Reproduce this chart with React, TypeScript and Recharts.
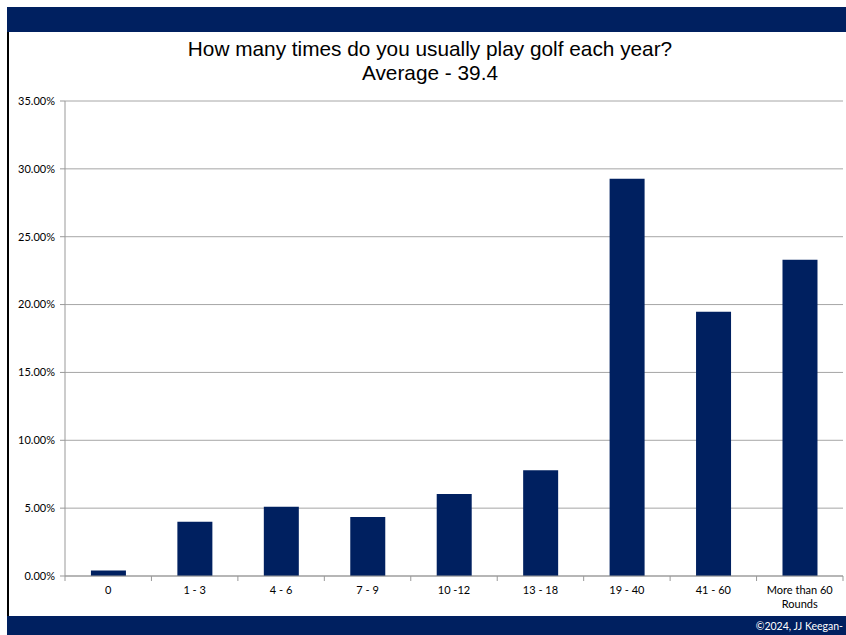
import { BarChart, Bar, XAxis, YAxis, CartesianGrid } from "recharts";

const roundBands = ["0", "1 - 3", "4 - 6", "7 - 9", "10 -12", "13 - 18", "19 - 40", "41 - 60", "More than 60 Rounds"];
const sharePct = [0.4, 4.0, 5.1, 4.35, 6.05, 7.8, 29.28, 19.47, 23.3];
const pctTicks = [0, 5, 10, 15, 20, 25, 30, 35];

const data = roundBands.map((band, i) => ({ band, share: sharePct[i] }));

const NAVY = "#002060";
const PLOT_LEFT = 65;
const PLOT_RIGHT = 843;
const STEP = (PLOT_RIGHT - PLOT_LEFT) / roundBands.length;
const LABEL_FONT = "Lato, 'Open Sans', sans-serif";

function BandTick(props: any) {
  const { x, y, payload, index } = props;
  const text: string = payload.value;
  const lines = text.startsWith("More than") ? ["More than 60", "Rounds"] : [text];
  const half = STEP / 2;
  return (
    <g>
      <line x1={x - half} y1={y - 8} x2={x - half} y2={y - 3} stroke="#999" />
      {index === roundBands.length - 1 && (
        <line x1={x + half} y1={y - 8} x2={x + half} y2={y - 3} stroke="#999" />
      )}
      {lines.map((l, i) => (
        <text key={i} x={x} y={y + 10 + i * 14} textAnchor="middle" fontSize={11} fontFamily={LABEL_FONT} fill="#000">
          {l}
        </text>
      ))}
    </g>
  );
}

export default function App() {
  return (
    <div style={{ position: "fixed", left: 0, top: 0, width: 846, height: 635, background: "#fff", overflow: "hidden" }}>
      <div style={{ position: "absolute", left: 7, top: 7, width: 839, height: 25, background: NAVY }} />
      <div style={{ position: "absolute", left: 7, top: 32, width: 2, height: 584, background: "#000" }} />
      <div style={{ position: "absolute", left: 7, top: 616, width: 839, height: 19, background: NAVY }} />
      <div
        style={{
          position: "absolute",
          right: 3,
          top: 620,
          color: "#fff",
          fontSize: 10.5,
          fontFamily: LABEL_FONT,
          whiteSpace: "nowrap",
        }}
      >
        ©2024, JJ Keegan-
      </div>
      <div
        style={{
          position: "absolute",
          left: 0,
          top: 37,
          width: 860,
          textAlign: "center",
          fontFamily: "'Liberation Sans', Arial, sans-serif",
          fontSize: 20.8,
          lineHeight: "24px",
          color: "#000",
        }}
      >
        How many times do you usually play golf each year?
        <br />
        Average - 39.4
      </div>
      <div style={{ position: "absolute", left: 0, top: 0 }}>
        <BarChart
          width={846}
          height={635}
          data={data}
          margin={{ top: 101, right: 846 - PLOT_RIGHT, bottom: 19, left: 10 }}
          barCategoryGap="30%"
        >
          <CartesianGrid vertical={false} stroke="#a6a6a6" />
          <XAxis
            dataKey="band"
            interval={0}
            tick={<BandTick />}
            tickLine={false}
            axisLine={{ stroke: "#999" }}
            height={40}
          />
          <YAxis
            width={55}
            domain={[0, 35]}
            ticks={pctTicks}
            tickFormatter={(v: number) => `${v.toFixed(2)}%`}
            tick={{ fontSize: 11, fontFamily: LABEL_FONT, fill: "#000" }}
            tickSize={5}
            tickMargin={5}
            tickLine={{ stroke: "#999" }}
            axisLine={{ stroke: "#999" }}
          />
          <Bar dataKey="share" fill={NAVY} isAnimationActive={false} />
        </BarChart>
      </div>
    </div>
  );
}
